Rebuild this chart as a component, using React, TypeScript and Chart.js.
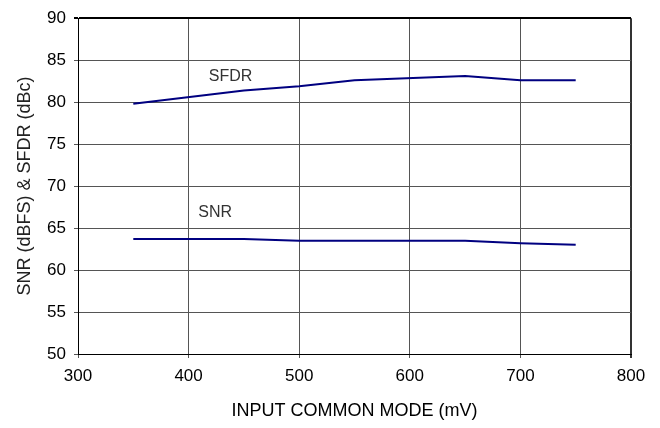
import React, { useEffect, useRef } from "react";
import { Chart, registerables } from "chart.js";

Chart.register(...registerables);

const sfdrX = [350, 450, 500, 550, 650, 700, 750];
const sfdrY = [79.8, 81.4, 81.9, 82.6, 83.1, 82.6, 82.6];
const snrX = [350, 450, 500, 650, 700, 750];
const snrY = [63.7, 63.7, 63.5, 63.5, 63.2, 63.0];
const xTicks = [300, 400, 500, 600, 700, 800];
const yTicks = [50, 55, 60, 65, 70, 75, 80, 85, 90];

const FONT = "'Liberation Sans', Arial, sans-serif";

const labelsPlugin = {
  id: "seriesLabels",
  afterDatasetsDraw(chart: any) {
    const { ctx, scales } = chart;
    const items = [
      { text: "SFDR", x: 438, y: 83.1 },
      { text: "SNR", x: 424, y: 66.9 },
    ];
    ctx.save();
    ctx.font = `16px ${FONT}`;
    ctx.fillStyle = "#333";
    ctx.textAlign = "center";
    ctx.textBaseline = "middle";
    for (const it of items) {
      ctx.fillText(it.text, scales.x.getPixelForValue(it.x), scales.y.getPixelForValue(it.y));
    }
    ctx.restore();
  },
};

export default function App() {
  const ref = useRef<HTMLCanvasElement>(null);
  useEffect(() => {
    if (!ref.current) return;
    const chart = new Chart(ref.current, {
      type: "line",
      data: {
        datasets: [
          {
            label: "SFDR",
            data: sfdrX.map((x, i) => ({ x, y: sfdrY[i] })),
            borderColor: "#000080",
            borderWidth: 2,
            pointRadius: 0,
            tension: 0,
          },
          {
            label: "SNR",
            data: snrX.map((x, i) => ({ x, y: snrY[i] })),
            borderColor: "#000080",
            borderWidth: 2,
            pointRadius: 0,
            tension: 0,
          },
        ],
      },
      options: {
        animation: false,
        responsive: false,
        maintainAspectRatio: false,
        layout: { padding: { top: 17, right: 29, left: 0, bottom: 0 } },
        plugins: { legend: { display: false }, tooltip: { enabled: false } },
        scales: {
          x: {
            type: "linear",
            min: 300,
            max: 800,
            afterBuildTicks: (s: any) => {
              s.ticks = xTicks.map((v) => ({ value: v }));
            },
            afterFit: (s: any) => {
              s.height = 74;
            },
            grid: {
              color: (c: any) => (c.tick && c.tick.value === 800 ? "#333" : "#555"),
              lineWidth: (c: any) => (c.tick && c.tick.value === 800 ? 2 : 1),
              tickLength: 4,
              drawTicks: true,
            },
            border: { color: "#000", width: 1 },
            ticks: { color: "#000", font: { family: FONT, size: 17 }, padding: 8, maxRotation: 0 },
            title: {
              display: true,
              text: "INPUT COMMON MODE (mV)",
              color: "#000",
              font: { family: FONT, size: 18 },
              padding: { top: 0, bottom: 6 },
            },
          },
          y: {
            min: 50,
            max: 90,
            afterBuildTicks: (s: any) => {
              s.ticks = yTicks.map((v) => ({ value: v }));
            },
            afterFit: (s: any) => {
              s.width = 78;
            },
            grid: {
              color: (c: any) => (c.tick && c.tick.value === 90 ? "#000" : "#555"),
              lineWidth: (c: any) => (c.tick && c.tick.value === 90 ? 2 : 1),
              tickLength: 4,
            },
            border: { color: "#000", width: 1 },
            ticks: { color: "#000", font: { family: FONT, size: 17 }, padding: 8 },
            title: {
              display: true,
              text: "SNR (dBFS) & SFDR (dBc)",
              color: "#222",
              font: { family: FONT, size: 18 },
              padding: { top: 14, bottom: 0 },
            },
          },
        },
      },
      plugins: [labelsPlugin],
    });
    return () => chart.destroy();
  }, []);
  return (
    <div style={{ position: "fixed", left: 0, top: 0, width: 660, height: 428, background: "#fff" }}>
      <canvas ref={ref} width={660} height={428} style={{ width: 660, height: 428 }} />
    </div>
  );
}
